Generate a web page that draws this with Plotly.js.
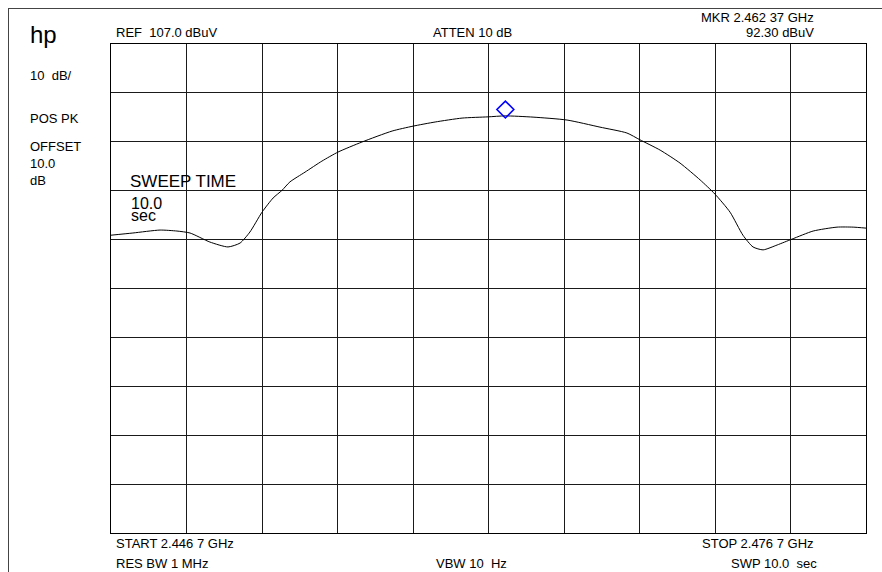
<!DOCTYPE html>
<html>
<head>
<meta charset="utf-8">
<script src="https://cdn.plot.ly/plotly-3.0.1.min.js"></script>
<style>
html,body{margin:0;padding:0;background:#fff;}
#chart{width:882px;height:572px;}
</style>
</head>
<body>
<div id="chart"></div>
<script>
// Trace data (frequency in GHz, level in dBuV)
const freqGHz = [2.44670, 2.44757, 2.44865, 2.44932, 2.44984, 2.45063, 2.45135, 2.45183, 2.45222, 2.45270,
                 2.45314, 2.45350, 2.45381, 2.45441, 2.45508, 2.45572, 2.45667, 2.45787, 2.45870, 2.45958,
                 2.46065, 2.46168, 2.46236, 2.46347, 2.46482, 2.46613, 2.46720, 2.46772, 2.46852, 2.46931,
                 2.47011, 2.47070, 2.47130, 2.47181, 2.47221, 2.47261, 2.47317, 2.47376, 2.47460, 2.47555,
                 2.47619, 2.47670];
const levelDbuv = [67.9, 68.35, 68.95, 68.75, 68.35, 66.5, 65.5, 66.3, 68.55, 72.6,
                   75.5, 77.1, 78.8, 80.8, 83.05, 84.9, 86.95, 89.2, 90.2, 91.05,
                   91.85, 92.1, 92.3, 92.05, 91.45, 90.0, 88.8, 87.4, 85.3, 82.65,
                   79.2, 76.3, 72.6, 67.9, 65.5, 64.9, 65.9, 67.1, 68.75, 69.55,
                   69.55, 69.35];
// Marker
const mkrFreq = [2.46237];
const mkrDisplayLevel = [93.6];
// Axis settings
const startGHz = 2.4467, stopGHz = 2.4767, freqDiv = 0.003;
const refLevel = 107.0, dbPerDiv = 10, nDiv = 10;

// Text labels
const leftLabels = [
  {t: "10\u00a0\u00a0dB/", y: 75},
  {t: "POS PK", y: 118},
  {t: "OFFSET", y: 146},
  {t: "10.0", y: 163},
  {t: "dB", y: 180}
];

const L = 111, T = 44, W = 755, H = 489;
const px = p => (p - L) / W;
const py = p => (T + H - p) / H;
const FONT = "Liberation Sans, Arial, sans-serif";

function ann(text, x, y, size, xanchor) {
  return {text: text, xref: 'paper', yref: 'paper', x: px(x), y: py(y),
          xanchor: xanchor || 'left', yanchor: 'middle', showarrow: false,
          font: {family: FONT, size: size || 13, color: '#000'}, borderpad: 0};
}

const annotations = [
  ann("hp", 29, 34, 24),
  ann("REF\u00a0\u00a0107.0 dBuV", 115, 33),
  ann("ATTEN 10 dB", 432, 33),
  ann("MKR 2.462 37 GHz", 815, 17, 13, 'right'),
  ann("92.30 dBuV", 815, 33, 13, 'right'),
  ann("START 2.446 7 GHz", 115, 543),
  ann("RES BW 1 MHz", 115, 563),
  ann("VBW 10\u00a0\u00a0Hz", 435, 563),
  ann("STOP 2.476 7 GHz", 815, 543, 13, 'right'),
  ann("SWP 10.0\u00a0\u00a0sec", 818, 563, 13, 'right'),
  ann("SWEEP TIME", 129, 181, 17),
  ann("10.0", 130, 203, 16),
  ann("sec", 130, 215, 16)
];
leftLabels.forEach(o => annotations.push(ann(o.t, 29, o.y)));

const traces = [
  {x: freqGHz, y: levelDbuv, type: 'scatter', mode: 'lines',
   line: {color: '#000', width: 1, shape: 'spline', smoothing: 0.6}, hoverinfo: 'skip'},
  {x: mkrFreq, y: mkrDisplayLevel, type: 'scatter', mode: 'markers',
   marker: {symbol: 'diamond-open', size: 13, color: '#0000ff', line: {color: '#0000ff', width: 1.6}}}
];

const layout = {
  width: 882, height: 572,
  margin: {l: L, r: 882 - L - W, t: T, b: 572 - T - H, pad: 0},
  paper_bgcolor: '#fff', plot_bgcolor: '#fff',
  showlegend: false,
  xaxis: {range: [startGHz, stopGHz], tick0: startGHz, dtick: freqDiv, showticklabels: false,
          ticks: '', showgrid: true, gridcolor: '#1a1a1a', gridwidth: 1, zeroline: false,
          showline: true, linecolor: '#000', linewidth: 1, mirror: true, fixedrange: true},
  yaxis: {range: [refLevel - nDiv * dbPerDiv, refLevel], tick0: refLevel, dtick: dbPerDiv,
          showticklabels: false, ticks: '', showgrid: true, gridcolor: '#1a1a1a', gridwidth: 1,
          zeroline: false, showline: true, linecolor: '#000', linewidth: 1, mirror: true, fixedrange: true},
  annotations: annotations,
  shapes: [
    {type: 'line', xref: 'paper', yref: 'paper', x0: px(8.5), x1: px(8.5), y0: py(8), y1: py(580),
     line: {color: '#444', width: 1}},
    {type: 'line', xref: 'paper', yref: 'paper', x0: px(8), x1: px(890), y0: py(8.5), y1: py(8.5),
     line: {color: '#444', width: 1}}
  ]
};

Plotly.newPlot('chart', traces, layout, {displayModeBar: false, staticPlot: true});
</script>
</body>
</html>
